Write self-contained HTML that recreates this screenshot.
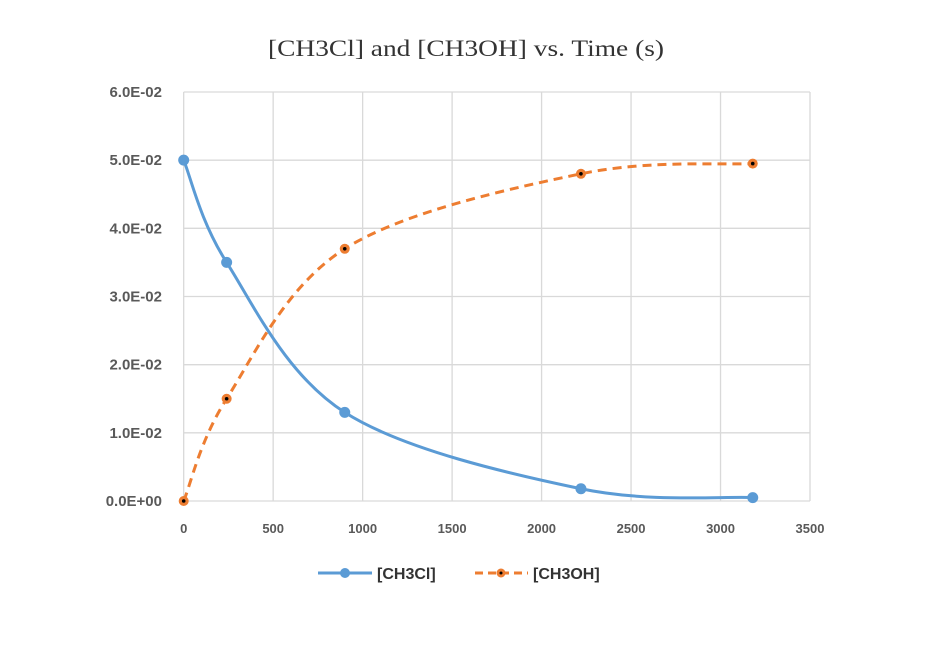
<!DOCTYPE html>
<html><head><meta charset="utf-8"><style>
body{margin:0;background:#fff;}
svg{display:block;font-family:"Liberation Sans",sans-serif;}
</style></head><body>
<svg width="950" height="652" viewBox="0 0 950 652">
<text x="466" y="56" text-anchor="middle" font-family="Liberation Serif,serif" font-size="23" textLength="396" lengthAdjust="spacingAndGlyphs" fill="#333">[CH3Cl] and [CH3OH] vs. Time (s)</text>
<g id="grid"></g>
<g id="axes"></g>
<g id="series"></g>
<g>
<g>
<line x1="318" y1="573" x2="372" y2="573" stroke="#5b9bd5" stroke-width="3"/>
<circle cx="345" cy="573" r="5" fill="#5b9bd5"/>
<text x="377" y="579" font-size="16" font-weight="bold" fill="#333">[CH3Cl]</text></g>
<g>
<line x1="475" y1="573" x2="528" y2="573" stroke="#ed7d31" stroke-width="3" stroke-dasharray="8,5"/>
<circle cx="501" cy="573" r="4.5" fill="#ed7d31"/><circle cx="501" cy="573" r="1.5" fill="#000"/>
<text x="533" y="579" font-size="16" font-weight="bold" fill="#333">[CH3OH]</text></g>
</g>
</svg>
<script>
const xTicks=[0,500,1000,1500,2000,2500,3000,3500];
const yTicks=[0,0.01,0.02,0.03,0.04,0.05,0.06];
const yTickLabels=["0.0E+00","1.0E-02","2.0E-02","3.0E-02","4.0E-02","5.0E-02","6.0E-02"];
const times=[0,240,900,2220,3180];
const ch3cl=[0.05,0.035,0.013,0.0018,0.0005];
const ch3oh=[0,0.015,0.037,0.048,0.0495];
const X0=183.7,X1=810,Y0=501,Y1=92;
const sx=v=>X0+(v-0)/3500*(X1-X0);
const sy=v=>Y0-(v/0.06)*(Y0-Y1);
const NS="http://www.w3.org/2000/svg";
function mk(tag,attrs,parent){const e=document.createElementNS(NS,tag);for(const k in attrs)e.setAttribute(k,attrs[k]);parent.appendChild(e);return e;}
const grid=document.getElementById('grid'),axes=document.getElementById('axes'),series=document.getElementById('series');
xTicks.forEach(t=>{const l=mk('line',{x1:sx(t),x2:sx(t),y1:Y1,y2:Y0,stroke:'#d9d9d9','stroke-width':1.3},grid);


const tx=mk('text',{x:sx(t),y:533,'text-anchor':'middle','font-size':13,'font-weight':'bold',fill:'#595959'},axes);tx.textContent=t;

});
yTicks.forEach((t,i)=>{const l=mk('line',{x1:X0,x2:X1,y1:sy(t),y2:sy(t),stroke:'#d9d9d9','stroke-width':1.3},grid);


const tx=mk('text',{x:162,y:sy(t)+5,'text-anchor':'end','font-size':15,'font-weight':'bold',fill:'#595959'},axes);tx.textContent=yTickLabels[i];

});
function smooth(xs,ys){const p=xs.map((x,i)=>[sx(x),sy(ys[i])]);let d=`M${p[0][0]},${p[0][1]}`;
for(let i=0;i<p.length-1;i++){const a=p[Math.max(0,i-1)],b=p[i],c=p[i+1],e=p[Math.min(p.length-1,i+2)];
const c1=[b[0]+(c[0]-a[0])/6,b[1]+(c[1]-a[1])/6],c2=[c[0]-(e[0]-b[0])/6,c[1]-(e[1]-b[1])/6];
d+=` C${c1[0]},${c1[1]} ${c2[0]},${c2[1]} ${c[0]},${c[1]}`;}return d;}
const p1=mk('path',{d:smooth(times,ch3cl),fill:'none',stroke:'#5b9bd5','stroke-width':3},series);


const p2=mk('path',{d:smooth(times,ch3oh),fill:'none',stroke:'#ed7d31','stroke-width':3,'stroke-dasharray':'9,6'},series);


times.forEach((t,i)=>{const c=mk('circle',{cx:sx(t),cy:sy(ch3cl[i]),r:5.5,fill:'#5b9bd5'},series);


const o=mk('circle',{cx:sx(t),cy:sy(ch3oh[i]),r:5,fill:'#ed7d31'},series);


const dd=mk('circle',{cx:sx(t),cy:sy(ch3oh[i]),r:1.8,fill:'#000'},series);

});
</script>
</body></html>
